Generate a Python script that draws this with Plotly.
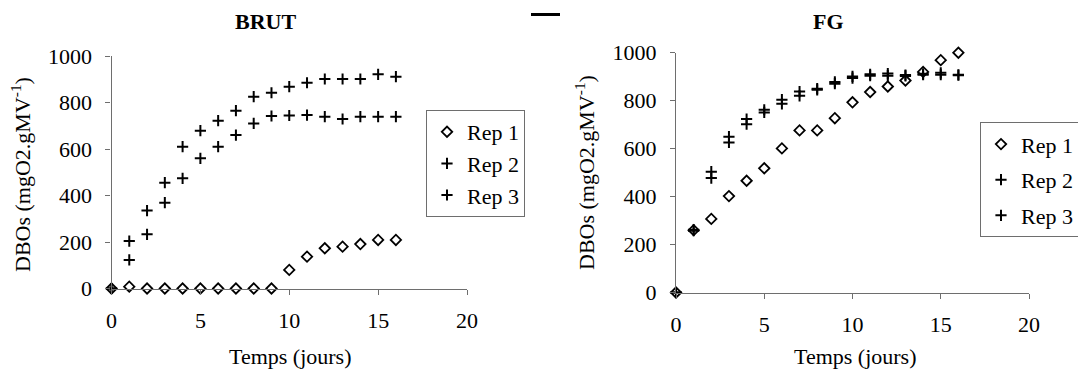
import plotly.graph_objects as go

# Days of incubation (same for both panels)
days = list(range(0, 17))

# BRUT panel: BOD values (mgO2 per g of volatile matter)
brut_rep1 = [0, 8, 0, 0, 0, 0, 0, 0, 0, 0, 80, 137, 173, 180, 191, 209, 209]
brut_rep2 = [0, 204, 335, 455, 610, 679, 722, 765, 825, 842, 868, 885, 901, 901, 901, 921, 911]
brut_rep3 = [0, 123, 233, 369, 474, 560, 610, 660, 710, 742, 744, 746, 739, 729, 739, 739, 739]

# FG panel
fg_rep1 = [0, 260, 307, 402, 466, 518, 601, 676, 676, 727, 793, 836, 859, 884, 920, 969, 1000]
fg_rep2 = [0, 262, 504, 650, 723, 762, 804, 838, 850, 878, 901, 910, 913, 907, 912, 916, 908]
fg_rep3 = [0, 258, 477, 626, 702, 751, 787, 820, 845, 871, 894, 904, 904, 903, 908, 908, 906]

y_ticks = [0, 200, 400, 600, 800, 1000]
x_ticks = [0, 5, 10, 15, 20]
series_names = ["Rep 1", "Rep 2", "Rep 3"]

W, H = 1078, 371
FONT = "Liberation Serif"
FS = 22
AXIS_COLOR = "#6e6e6e"


def px(x):
    return x / W


def py(y):
    return 1 - y / H


fig = go.Figure()

panels = [
    ("x", "y", "legend", [brut_rep1, brut_rep2, brut_rep3]),
    ("x2", "y2", "legend2", [fg_rep1, fg_rep2, fg_rep3]),
]

for xa, ya, leg, reps in panels:
    for i, (name, vals) in enumerate(zip(series_names, reps)):
        if i == 0:
            marker = dict(symbol="diamond-open", size=8, color="black",
                          line=dict(color="black", width=1.8))
        else:
            marker = dict(symbol="cross-thin-open", size=8, color="black",
                          line=dict(color="black", width=2))
        fig.add_trace(go.Scatter(
            x=days, y=vals, name=name, mode="markers", marker=marker,
            xaxis=xa, yaxis=ya, legend=leg, legendgroup=f"{leg}-{i}",
            cliponaxis=False,
        ))

axis_common = dict(
    showgrid=False, zeroline=False, showline=True, linecolor=AXIS_COLOR,
    linewidth=1.2, ticks="outside", ticklen=5, tickcolor=AXIS_COLOR,
    tickwidth=1.2, tickfont=dict(family=FONT, size=FS, color="black"),
)

fig.update_layout(
    width=W, height=H,
    margin=dict(l=0, r=0, t=0, b=0, autoexpand=False),
    paper_bgcolor="white", plot_bgcolor="white",
    font=dict(family=FONT, size=FS, color="black"),
    xaxis=dict(domain=[px(111.5), px(467)], range=[0, 20], tickvals=x_ticks,
               anchor="y", ticklabelstandoff=7, **axis_common),
    yaxis=dict(domain=[py(288.5), py(56)], range=[0, 1000], tickvals=y_ticks,
               anchor="x", ticklabelstandoff=9, **axis_common),
    xaxis2=dict(domain=[px(676), px(1029)], range=[0, 20], tickvals=x_ticks,
                anchor="y2", ticklabelstandoff=7, **axis_common),
    yaxis2=dict(domain=[py(292.5), py(52.7)], range=[0, 1000], tickvals=y_ticks,
                anchor="x2", ticklabelstandoff=9, **axis_common),
    legend=dict(x=px(426), y=py(110), xanchor="left", yanchor="top",
                bgcolor="white", bordercolor=AXIS_COLOR, borderwidth=1,
                font=dict(family=FONT, size=FS), tracegroupgap=0),
    legend2=dict(x=px(980), y=py(122.3), xanchor="left", yanchor="top",
                 bgcolor="white", bordercolor=AXIS_COLOR, borderwidth=1,
                 font=dict(family=FONT, size=FS), tracegroupgap=4),
    showlegend=True,
)

ylab = "DBOs (mgO2.gMV<sup>-1</sup>)"
xlab = "Temps (jours)"
annotations = [
    dict(text="<b>BRUT</b>", x=px(265), y=py(21.7)),
    dict(text="<b>FG</b>", x=px(828), y=py(21.7)),
    dict(text=xlab, x=px(290), y=py(356)),
    dict(text=xlab, x=px(855), y=py(356)),
    dict(text=ylab, x=px(21), y=py(175), textangle=-90),
    dict(text=ylab, x=px(585), y=py(173), textangle=-90),
]
for a in annotations:
    fig.add_annotation(xref="paper", yref="paper", xanchor="center",
                       yanchor="middle", showarrow=False,
                       font=dict(family=FONT, size=FS, color="black"), **a)

# short separator stroke at the top, between the panels
fig.add_shape(type="line", xref="paper", yref="paper",
              x0=px(531), x1=px(560), y0=py(14.5), y1=py(14.5),
              line=dict(color="black", width=3))

fig.write_html("out.html")
